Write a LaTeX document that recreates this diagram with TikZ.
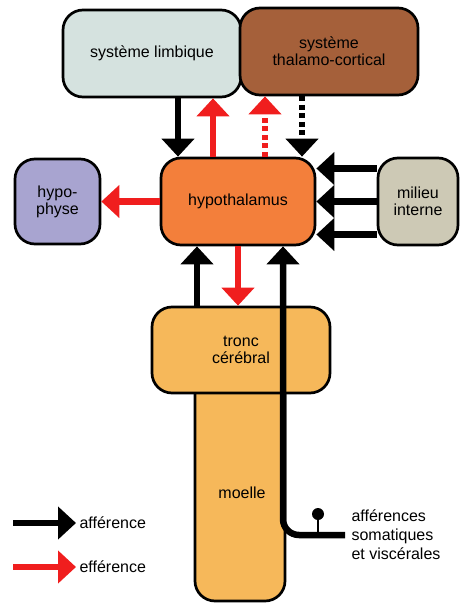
\documentclass[tikz,border=0pt]{standalone}
\usepackage{fontspec}
\setmainfont{Liberation Sans}
\usetikzlibrary{arrows.meta,positioning}
\definecolor{limbcol}{HTML}{D5E2DF}
\definecolor{thalcol}{HTML}{A5603A}
\definecolor{hypocol}{HTML}{F37F3B}
\definecolor{physcol}{HTML}{A8A4D0}
\definecolor{milcol}{HTML}{CDC9B5}
\definecolor{troncol}{HTML}{F6B85A}
\definecolor{effcol}{HTML}{F01E1E}
\tikzset{
  box/.style={draw, line width=2.7pt, rounded corners=20pt, align=center, font=\fontsize{16}{17}\selectfont},
  fib/.style={line width=6.5pt, -{Triangle[width=32pt,length=18pt]}},
  aff/.style={fib, black},
  eff/.style={fib, effcol},
  dashfib/.style={dash pattern=on 5pt off 3.5pt}
}
\begin{document}
\begin{tikzpicture}[x=1pt,y=-1pt]
\useasboundingbox (0,0) rectangle (459,603);
% structures
\node[box, fill=limbcol, minimum width=178pt, minimum height=87pt] (limb) at (152,53.5) {système limbique};
\node[box, fill=thalcol, minimum width=178pt, minimum height=87pt] (thal) at (329,51.5) {système\\thalamo-cortical};
\node[box, fill=hypocol, minimum width=154pt, minimum height=87pt] (hypo) at (238,201.5) {hypothalamus};
\node[box, fill=physcol, minimum width=85pt, minimum height=85pt] (phys) at (57.5,201.5) {hypo-\\physe};
\node[box, fill=milcol, minimum width=80pt, minimum height=87pt] (mil) at (418,201.5) {milieu\\interne};
\node[box, fill=troncol, minimum width=90pt, minimum height=261pt] (moelle) at (240,470.5) {};
\node[font=\fontsize{16}{17}\selectfont] (moelletxt) at (242,493) {moelle};
\node[box, fill=troncol, minimum width=178pt, minimum height=86pt] (tronc) at (241,350) {tronc\\cérébral};
% fibres
\draw[aff] ([xshift=26pt]limb.south) -- ([xshift=26pt]limb.south |- hypo.north);
\draw[eff] ([xshift=-25pt]hypo.north) -- ([xshift=-25pt]hypo.north |- limb.south);
\draw[eff, dashfib] ([xshift=27pt]hypo.north) -- ([xshift=27pt]hypo.north |- thal.south);
\draw[aff, dashfib] ([xshift=-27pt]thal.south) -- ([xshift=-27pt]thal.south |- hypo.north);
\foreach \dy in {33,0,-33}{\draw[aff] ([yshift=\dy pt]mil.west) -- ([yshift=\dy pt]mil.west -| hypo.east);}
\draw[eff] (hypo.west) -- (phys.east);
\draw[eff] (hypo.south) -- (hypo.south |- tronc.north);
\draw[aff] ([xshift=-44pt]tronc.north) -- ([xshift=-44pt]tronc.north |- hypo.south);
\coordinate (somat) at (345,535);
\coordinate (bend) at (283,535);
\draw[aff, rounded corners=16pt] (somat) -- (bend) -- (bend |- hypo.south);
\node[circle, fill, inner sep=0pt, minimum size=12pt] (recep) at (318,514) {};
\draw[line width=2.5pt] (recep) -- (recep |- somat);
\node[anchor=west, align=left, font=\fontsize{16}{19}\selectfont] (somtxt) at (348,535) {afférences\\somatiques\\et viscérales};
% legende
\foreach \y/\col/\name in {523/black/afférence,567/effcol/efférence}{
  \coordinate (leg\y) at (13,\y);
  \node[anchor=west, font=\fontsize{16}{17}\selectfont] (legtxt\y) at (76,\y) {\name};
  \draw[fib, \col] (leg\y) -- (legtxt\y.west);}
\end{tikzpicture}
\end{document}
